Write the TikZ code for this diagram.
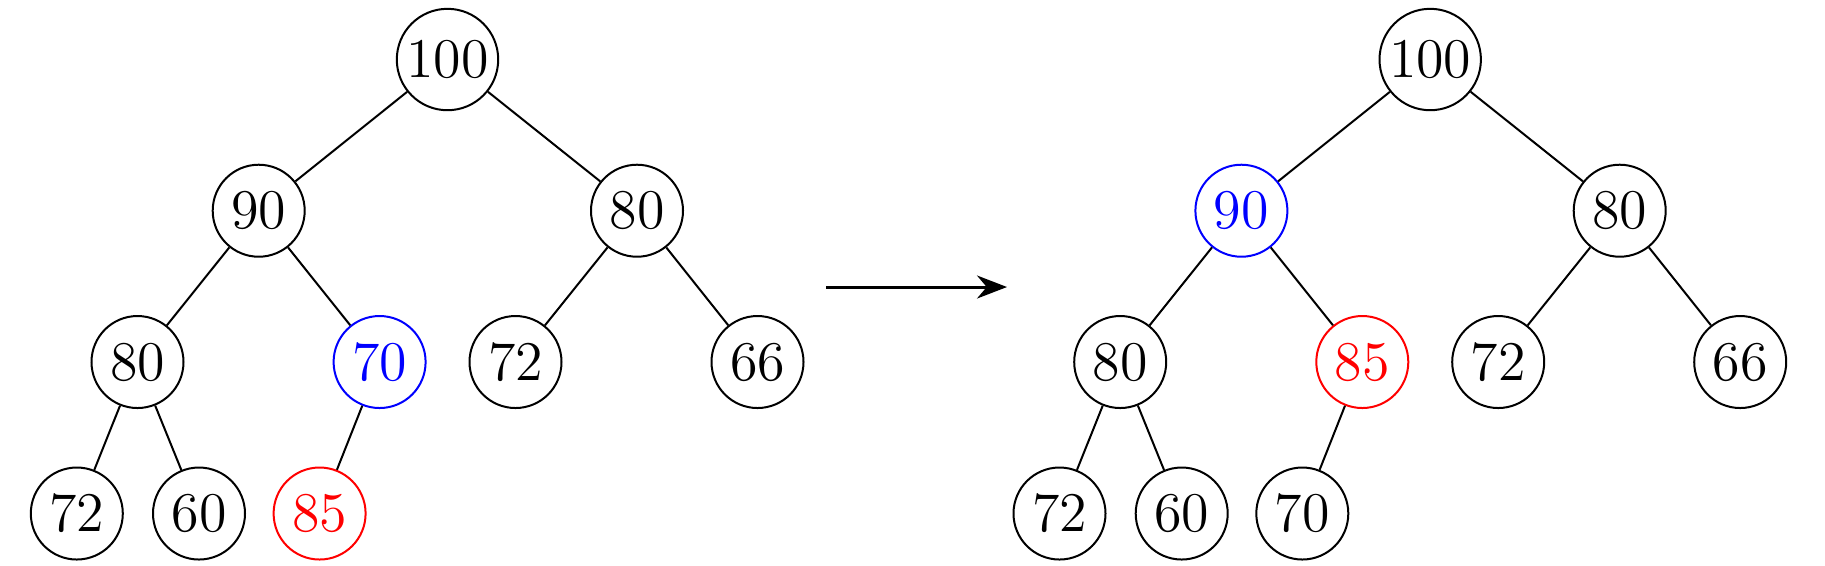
\documentclass[tikz,border=0pt]{standalone}
\usetikzlibrary{arrows.meta}
\begin{document}
\begin{tikzpicture}[x=0.2pt,y=-0.2pt,
  nd/.style={circle,draw,line width=0.4pt,minimum size=18.4pt,inner sep=0.8pt,font=\fontsize{11.2}{13}\selectfont},
  hl/.style={nd,draw=blue,text=blue},
  nw/.style={nd,draw=red,text=red},
  edge/.style={line width=0.4pt}]
\useasboundingbox (0,0) rectangle (1825,565);
% left tree
\node[nd] (r1) at (447.5,59.5) {100};
\node[nd] (a1) at (258.7,210.7) {90};
\node[nd] (b1) at (637,210.7) {80};
\node[nd] (c1) at (137.5,362) {80};
\node[hl] (d1) at (379.6,362) {70};
\node[nd] (e1) at (515.5,362) {72};
\node[nd] (f1) at (757.5,362) {66};
\node[nd] (g1) at (76.8,513.5) {72};
\node[nd] (h1) at (199,513.5) {60};
\node[nw] (i1) at (319.6,513.5) {85};
\draw[edge] (r1)--(a1) (r1)--(b1) (a1)--(c1) (a1)--(d1) (b1)--(e1) (b1)--(f1)
  (c1)--(g1) (c1)--(h1) (d1)--(i1);
% right tree
\begin{scope}[xshift=982.7*0.2pt]
\node[nd] (r2) at (447.5,59.5) {100};
\node[hl] (a2) at (258.7,210.7) {90};
\node[nd] (b2) at (637,210.7) {80};
\node[nd] (c2) at (137.5,362) {80};
\node[nw] (d2) at (379.6,362) {85};
\node[nd] (e2) at (515.5,362) {72};
\node[nd] (f2) at (757.5,362) {66};
\node[nd] (g2) at (76.8,513.5) {72};
\node[nd] (h2) at (199,513.5) {60};
\node[nd] (i2) at (319.6,513.5) {70};
\end{scope}
\draw[edge] (r2)--(a2) (r2)--(b2) (a2)--(c2) (a2)--(d2) (b2)--(e2) (b2)--(f2)
  (c2)--(g2) (c2)--(h2) (d2)--(i2);
% arrow
\coordinate (s) at (826,287);
\coordinate (t) at (1007,287);
\draw[line width=0.6pt,-{Stealth[length=6pt,width=4.6pt]}] (s)--(t);
\end{tikzpicture}
\end{document}
